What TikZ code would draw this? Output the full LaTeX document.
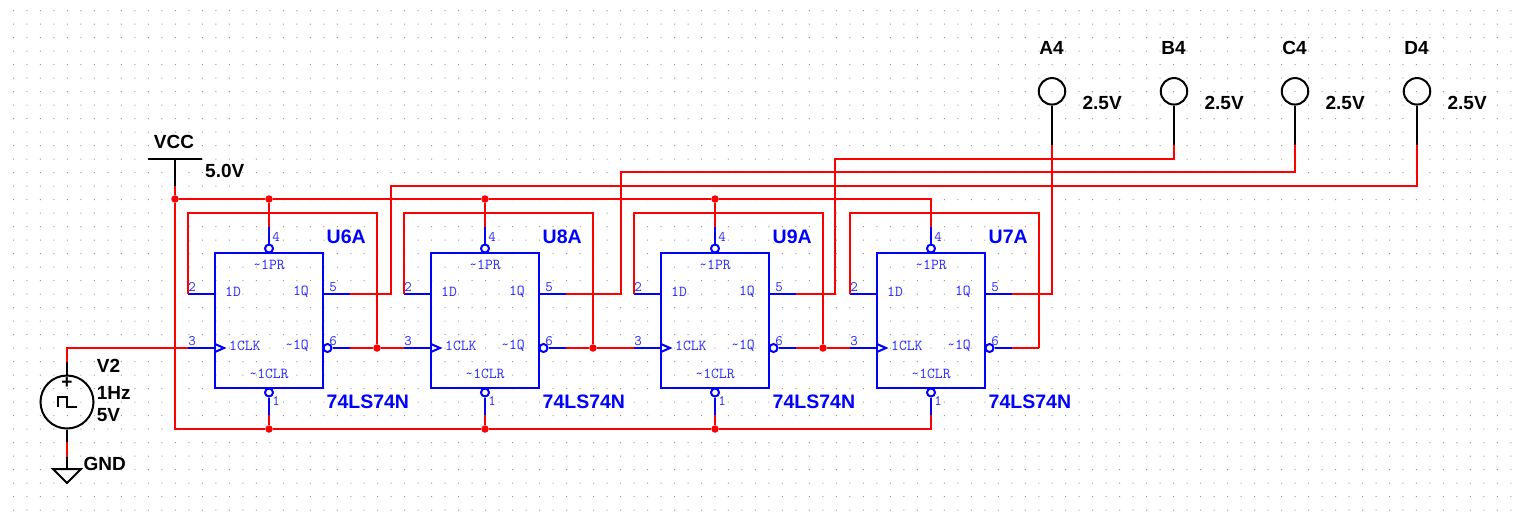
\documentclass[tikz,border=0pt]{standalone}
\usepackage{fontspec}
\setmainfont{Liberation Sans}
\begin{document}
\begin{tikzpicture}[x=1pt,y=-1pt,
    chip_style/.style={rectangle,draw=netblue,line width=2.2pt,minimum width=108pt,minimum height=135pt,inner sep=0pt},
    bubble_style/.style={circle,draw=netblue,fill=white,line width=2pt,minimum size=8pt,inner sep=0pt},
    junction_style/.style={circle,fill=red,minimum size=7.5pt,inner sep=0pt},
    probe_style/.style={circle,draw=black,line width=2pt,minimum size=26.5pt,inner sep=0pt},
    red_edge/.style={draw=red,line width=2.2pt},
    blue_edge/.style={draw=netblue,line width=2.2pt},
    black_edge/.style={draw=black,line width=2.2pt},
    label_style/.style={inner sep=0pt,font=\fontsize{19}{20}\bfseries\selectfont},
    part_style/.style={inner sep=0pt,text=netblue,font=\fontsize{19.5}{20}\bfseries\selectfont},
    pinname_style/.style={inner sep=0pt,text=pinblue,font=\fontsize{15.2}{16}\ttfamily\selectfont},
    pinnum_style/.style={pinname_style,font=\fontsize{14.5}{16}\ttfamily\selectfont}]
    \definecolor{netblue}{RGB}{0,0,255}
    \definecolor{pinblue}{RGB}{40,40,255}
    \useasboundingbox (0,0) rectangle (1514,523);
    \fill[white] (0,0) rectangle (1514,523);
    % sheet grid
    \fill[gray!80] \foreach \i in {0,...,111} {\foreach \j in {0,...,37} {
        (13+13.49*\i,10+13.5*\j) rectangle ++(1,1)}};
    % flip-flops
    \foreach \u/\cx/\name in {a/215/U6A,b/431/U8A,c/661/U9A,d/877/U7A} {
        \node[chip_style] (\u) at (\cx+54,320.5) {};
        \coordinate (\u_d) at (\cx-27,294);
        \coordinate (\u_clk) at (\cx-27,348);
        \coordinate (\u_q) at (\cx+135,294);
        \coordinate (\u_nq) at (\cx+135,348);
        \coordinate (\u_pr) at (\cx+54,227);
        \coordinate (\u_clr) at (\cx+54,415);
        \coordinate (\u_loop) at (\cx+162,213);
        \coordinate (\u_fb) at (\cx+162,348);
        \coordinate (\u_top) at (\cx+54,199);
        \coordinate (\u_low) at (\cx+54,429);
        \coordinate (\u_dpin) at (\cx,294);
        \coordinate (\u_cpin) at (\cx,348);
        \coordinate (\u_qpin) at (\cx+108,294);
        \coordinate (\u_ca) at (\cx,344);
        \coordinate (\u_cb) at (\cx+9,348);
        \coordinate (\u_cc) at (\cx,352);
        \node[bubble_style] (\u_prb) at (\cx+54,248.5) {};
        \node[bubble_style] (\u_clrb) at (\cx+54,392.5) {};
        \node[bubble_style] (\u_nqb) at (\cx+112.5,348) {};
        \draw[blue_edge] (\u_pr) -- (\u_prb);
        \draw[blue_edge] (\u_clrb) -- (\u_clr);
        \draw[blue_edge] (\u_d) -- (\u_dpin);
        \draw[blue_edge] (\u_clk) -- (\u_cpin);
        \draw[blue_edge] (\u_qpin) -- (\u_q);
        \draw[blue_edge] (\u_nqb) -- (\u_nq);
        \draw[blue_edge,line width=2pt] (\u_ca) -- (\u_cb) -- (\u_cc);
        \node[pinname_style] (\u_tpr) at (\cx+54,264.5) {\textasciitilde1PR};
        \node[pinname_style,anchor=west] (\u_td) at (\cx+10,292) {1D};
        \node[pinname_style,anchor=east] (\u_tq) at (\cx+94,292) {1Q};
        \node[pinname_style,anchor=west] (\u_tclk) at (\cx+14,346) {1CLK};
        \node[pinname_style,anchor=east] (\u_tnq) at (\cx+94,346) {\textasciitilde1Q};
        \node[pinname_style] (\u_tclr) at (\cx+54,373.5) {\textasciitilde1CLR};
        \node[pinnum_style] (\u_n4) at (\cx+61,237) {4};
        \node[pinnum_style] (\u_n2) at (\cx-23,287) {2};
        \node[pinnum_style] (\u_n3) at (\cx-23,341) {3};
        \node[pinnum_style] (\u_n5) at (\cx+118,287) {5};
        \node[pinnum_style] (\u_n6) at (\cx+118,341) {6};
        \node[pinnum_style] (\u_n1) at (\cx+61,401) {1};
        \node[part_style,anchor=west] (\u_name) at (\cx+111.5,236.5) {\name};
        \node[part_style,anchor=west] (\u_type) at (\cx+111.5,402) {74LS74N};
    }
    % probes
    \foreach \p/\px/\name in {pa/1052/A4,pb/1174/B4,pc/1295/C4,pd/1417/D4} {
        \node[probe_style] (\p) at (\px,91.3) {};
        \coordinate (\p_low) at (\px,145);
        \node[label_style] (\p_name) at (\px-.5,48.3) {\name};
        \node[label_style,anchor=west] (\p_volt) at (\px+30.4,103.3) {2.5V};
        \draw[black_edge] (\p) -- (\p_low);
    }
    % supply and ground
    \coordinate (vcc) at (175,159);
    \coordinate (vcc_l) at (148,159);
    \coordinate (vcc_r) at (202,159);
    \coordinate (vcc_low) at (175,186);
    \node[label_style] (vcc_name) at (174,142.3) {VCC};
    \node[label_style,anchor=west] (vcc_volt) at (205,171) {5.0V};
    \node[circle,draw=black,line width=2pt,minimum size=53pt,inner sep=0pt] (v2) at (67,402) {};
    \coordinate (v2_up) at (67,362);
    \coordinate (v2_turn) at (67,348);
    \coordinate (v2_down) at (67,442);
    \coordinate (gnd_up) at (67,457);
    \coordinate (gnd) at (67,469);
    \coordinate (gnd_l) at (53,469);
    \coordinate (gnd_r) at (81,469);
    \coordinate (gnd_tip) at (67,483);
    \node[font=\fontsize{19}{20}\bfseries\selectfont,inner sep=0pt] (v2_plus) at (67,383) {+};
    \node[label_style,anchor=west] (v2_name) at (96.7,366) {V2};
    \node[label_style,anchor=west] (v2_freq) at (96.7,393) {1Hz};
    \node[label_style,anchor=west] (v2_amp) at (96.7,415) {5V};
    \node[label_style,anchor=west] (gnd_name) at (83.3,463.7) {GND};
    \draw[black,line width=2pt] (57.7,406.7) -- (57.7,396.7) -- (67,396.7) -- (67,406.7) -- (76.7,406.7);
    \draw[black_edge,line width=1.5pt] (vcc_l) -- (vcc_r);
    \draw[black_edge] (vcc) -- (vcc_low);
    \draw[black_edge] (v2_up) -- (v2);
    \draw[black_edge] (v2) -- (v2_down);
    \draw[black_edge] (gnd_up) -- (gnd);
    \draw[black_edge,line width=2pt] (gnd_l) -- (gnd_r) -- (gnd_tip) -- cycle;
    % nets
    \node[junction_style] (j_vcc) at (175,199) {};
    \node[junction_style] (j_a) at (a_top) {};
    \node[junction_style] (j_b) at (b_top) {};
    \node[junction_style] (j_c) at (c_top) {};
    \node[junction_style] (k_a) at (a_low) {};
    \node[junction_style] (k_b) at (b_low) {};
    \node[junction_style] (k_c) at (c_low) {};
    \node[junction_style] (f_a) at (a_fb) {};
    \node[junction_style] (f_b) at (b_fb) {};
    \node[junction_style] (f_c) at (c_fb) {};
    \coordinate (bend_d) at (391,186);
    \coordinate (bend_c) at (621,172);
    \coordinate (bend_b) at (835,159);
    \draw[red_edge] (vcc_low) -- (j_vcc);
    \draw[red_edge] (j_vcc) -- (j_a) -- (j_b) -- (j_c) -- (d_top) -- (d_pr);
    \draw[red_edge] (j_a) -- (a_pr);
    \draw[red_edge] (j_b) -- (b_pr);
    \draw[red_edge] (j_c) -- (c_pr);
    \draw[red_edge] (j_vcc) |- (k_a);
    \draw[red_edge] (k_a) -- (k_b) -- (k_c) -- (d_low) -- (d_clr);
    \draw[red_edge] (k_a) -- (a_clr);
    \draw[red_edge] (k_b) -- (b_clr);
    \draw[red_edge] (k_c) -- (c_clr);
    \draw[red_edge] (v2_up) -- (v2_turn) -- (a_clk);
    \draw[red_edge] (v2_down) -- (gnd_up);
    \draw[red_edge] (a_nq) -- (f_a) -- (b_clk);
    \draw[red_edge] (b_nq) -- (f_b) -- (c_clk);
    \draw[red_edge] (c_nq) -- (f_c) -- (d_clk);
    \draw[red_edge] (d_nq) -- (d_fb);
    \draw[red_edge] (a_d) |- (a_loop) -- (f_a);
    \draw[red_edge] (b_d) |- (b_loop) -- (f_b);
    \draw[red_edge] (c_d) |- (c_loop) -- (f_c);
    \draw[red_edge] (d_d) |- (d_loop) -- (d_fb);
    \draw[red_edge] (a_q) -| (bend_d) -| (pd_low);
    \draw[red_edge] (b_q) -| (bend_c) -| (pc_low);
    \draw[red_edge] (c_q) -| (bend_b) -| (pb_low);
    \draw[red_edge] (d_q) -| (pa_low);
\end{tikzpicture}
\end{document}
